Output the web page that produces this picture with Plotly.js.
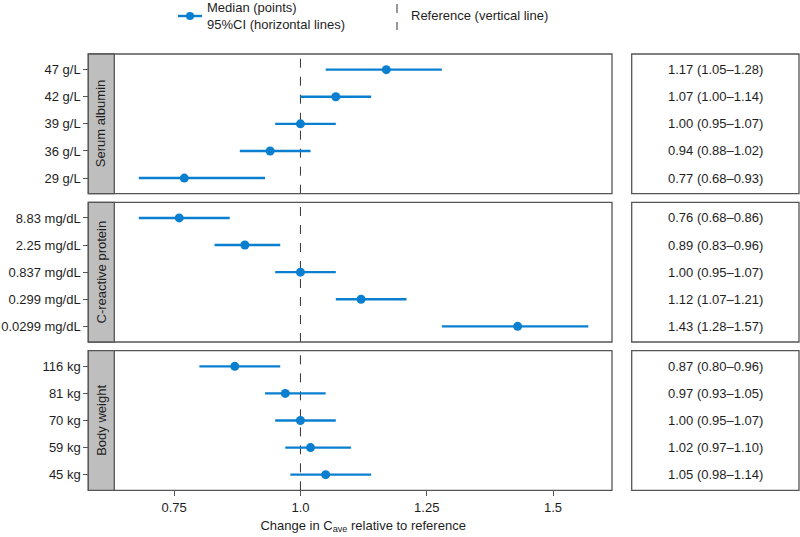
<!DOCTYPE html>
<html>
<head>
<meta charset="utf-8">
<script src="https://cdn.plot.ly/plotly-3.0.1.min.js"></script>
<style>html,body{margin:0;padding:0;background:#fff;}#chart{width:800px;height:537px;}</style>
</head>
<body>
<div id="chart"></div>
<script>
// ---- data ----
const panelNames = ["Serum albumin", "C-reactive protein", "Body weight"];

const albuminLabels = ["47 g/L", "42 g/L", "39 g/L", "36 g/L", "29 g/L"];
const albuminMedian = [1.17, 1.07, 1.00, 0.94, 0.77];
const albuminLow    = [1.05, 1.00, 0.95, 0.88, 0.68];
const albuminHigh   = [1.28, 1.14, 1.07, 1.02, 0.93];

const crpLabels = ["8.83 mg/dL", "2.25 mg/dL", "0.837 mg/dL", "0.299 mg/dL", "0.0299 mg/dL"];
const crpMedian = [0.76, 0.89, 1.00, 1.12, 1.43];
const crpLow    = [0.68, 0.83, 0.95, 1.07, 1.28];
const crpHigh   = [0.86, 0.96, 1.07, 1.21, 1.57];

const weightLabels = ["116 kg", "81 kg", "70 kg", "59 kg", "45 kg"];
const weightMedian = [0.87, 0.97, 1.00, 1.02, 1.05];
const weightLow    = [0.80, 0.93, 0.95, 0.97, 0.98];
const weightHigh   = [0.96, 1.05, 1.07, 1.10, 1.14];

const xTickVals = [0.75, 1.0, 1.25, 1.5];
const xTickText = ["0.75", "1.0", "1.25", "1.5"];
const referenceValue = 1.0;

// ---- layout helpers ----
const W = 800, H = 537;
const px = v => v / W;
const py = v => (H - v) / H;
const BLUE = "#0a7fd0";
const BORDER = "#555555";
const TXT = "#1e1e1e";
const FONT = "Liberation Sans, Arial, sans-serif";

const panels = [
  {labels: albuminLabels, med: albuminMedian, lo: albuminLow, hi: albuminHigh, top: 54, bot: 193.7},
  {labels: crpLabels, med: crpMedian, lo: crpLow, hi: crpHigh, top: 202.3, bot: 342},
  {labels: weightLabels, med: weightMedian, lo: weightLow, hi: weightHigh, top: 350.7, bot: 490.3}
];

const plotLeft = 88.3, stripRight = 114.3, plotRight = 612;
const boxLeft = 631.7, boxRight = 799;

const traces = [];
const shapes = [];
const annotations = [];
const layout = {
  width: W, height: H,
  margin: {l: 0, r: 0, t: 0, b: 0},
  paper_bgcolor: "#fff", plot_bgcolor: "#fff",
  showlegend: false,
  font: {family: FONT, size: 13, color: TXT},
  xaxis: {
    domain: [px(stripRight), px(plotRight)],
    range: [0.6315, 1.6168],
    anchor: "y3",
    tickmode: "array", tickvals: xTickVals, ticktext: xTickText,
    ticks: "outside", ticklen: 5, tickcolor: BORDER, tickwidth: 1,
    showgrid: false, zeroline: false, showline: false,
    tickfont: {size: 13, color: TXT},
    title: {text: "Change in C<sub>ave</sub> relative to reference", font: {size: 13, color: TXT}, standoff: 6}
  },
  shapes: shapes,
  annotations: annotations
};

panels.forEach((p, i) => {
  const n = p.labels.length;
  const ypos = p.labels.map((_, k) => n - k);
  const yName = i === 0 ? "y" : "y" + (i + 1);
  const yKey = i === 0 ? "yaxis" : "yaxis" + (i + 1);
  layout[yKey] = {
    domain: [py(p.bot), py(p.top)],
    range: [0.423, n + 0.577],
    anchor: "free", position: px(plotLeft),
    tickmode: "array", tickvals: ypos, ticktext: p.labels,
    ticks: "outside", ticklen: 5, tickcolor: BORDER, tickwidth: 1,
    showgrid: false, zeroline: false, showline: false,
    tickfont: {size: 13, color: TXT}
  };
  traces.push({
    type: "scatter", mode: "markers",
    x: p.med, y: ypos, xaxis: "x", yaxis: yName,
    marker: {color: BLUE, size: 9},
    error_x: {type: "data", symmetric: false,
      array: p.hi.map((h, k) => h - p.med[k]),
      arrayminus: p.lo.map((l, k) => p.med[k] - l),
      color: BLUE, thickness: 2.4, width: 0},
    hoverinfo: "skip"
  });
  // reference line
  shapes.push({type: "line", xref: "x", yref: yName + " domain", x0: referenceValue, x1: referenceValue, y0: 0, y1: 1,
    line: {color: "#333", width: 1, dash: "dash"}, layer: "below"});
  // panel border
  shapes.push({type: "rect", xref: "paper", yref: yName + " domain", x0: px(plotLeft), x1: px(plotRight), y0: 0, y1: 1,
    line: {color: BORDER, width: 1.3}, fillcolor: "rgba(0,0,0,0)", layer: "above"});
  // strip
  shapes.push({type: "rect", xref: "paper", yref: yName + " domain", x0: px(plotLeft), x1: px(stripRight), y0: 0, y1: 1,
    line: {color: BORDER, width: 1.3}, fillcolor: "#bebebe", layer: "above"});
  annotations.push({xref: "paper", yref: yName + " domain", x: px((plotLeft + stripRight) / 2), y: 0.5,
    text: panelNames[i], textangle: -90, showarrow: false, font: {size: 13, color: TXT},
    xanchor: "center", yanchor: "middle"});
  // right box
  shapes.push({type: "rect", xref: "paper", yref: yName + " domain", x0: px(boxLeft), x1: px(boxRight), y0: 0, y1: 1,
    line: {color: BORDER, width: 1.3}, fillcolor: "rgba(0,0,0,0)"});
  p.med.forEach((m, k) => {
    annotations.push({xref: "paper", yref: yName, x: px((boxLeft + boxRight) / 2), y: ypos[k],
      text: m.toFixed(2) + " (" + p.lo[k].toFixed(2) + "\u2013" + p.hi[k].toFixed(2) + ")",
      showarrow: false, font: {size: 13, color: TXT}, xanchor: "center", yanchor: "middle"});
  });
});

// ---- legend (manual) ----
shapes.push({type: "line", xref: "paper", yref: "paper", x0: px(178), x1: px(202), y0: py(16), y1: py(16),
  line: {color: BLUE, width: 2.4}});
shapes.push({type: "circle", xref: "paper", yref: "paper", x0: px(186), x1: px(194), y0: py(20), y1: py(12),
  line: {color: BLUE, width: 0}, fillcolor: BLUE});
annotations.push({xref: "paper", yref: "paper", x: px(205), y: py(16), xanchor: "left", yanchor: "middle",
  text: "Median (points)<br>95%CI (horizontal lines)", align: "left", showarrow: false, font: {size: 13, color: TXT}});
shapes.push({type: "line", xref: "paper", yref: "paper", x0: px(397), x1: px(397), y0: py(4), y1: py(30),
  line: {color: "#333", width: 1, dash: "dash"}});
annotations.push({xref: "paper", yref: "paper", x: px(409), y: py(15), xanchor: "left", yanchor: "middle",
  text: "Reference (vertical line)", showarrow: false, font: {size: 13, color: TXT}});

Plotly.newPlot("chart", traces, layout, {staticPlot: true, displayModeBar: false});
</script>
</body>
</html>
